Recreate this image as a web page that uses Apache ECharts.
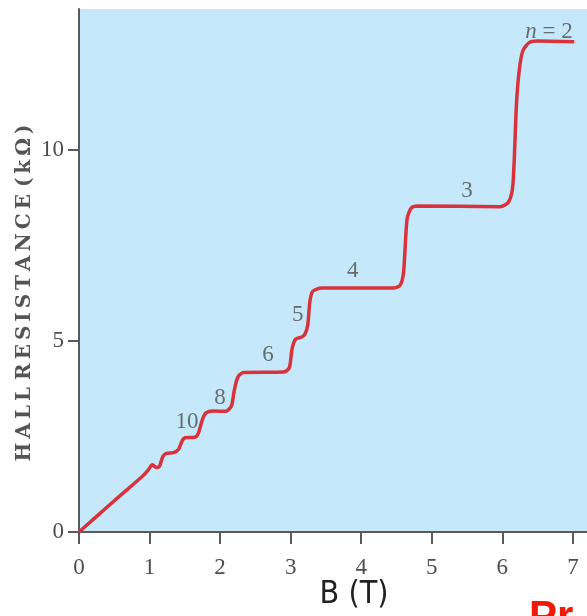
<!DOCTYPE html>
<html>
<head>
<meta charset="utf-8">
<script src="https://cdn.jsdelivr.net/npm/echarts@6/dist/echarts.min.js"></script>
<style>
html,body{margin:0;padding:0;background:#fff;}
#c{width:587px;height:616px;}
</style>
</head>
<body>
<div id="c"></div>
<script>
// Magnetic field B (T)
const bField = [0, 0.5, 0.9, 0.98, 1.04, 1.1, 1.14, 1.19, 1.24, 1.34, 1.41, 1.46, 1.5, 1.64, 1.69, 1.75, 1.8, 1.9, 2.08, 2.16, 2.2, 2.25, 2.33, 2.9, 2.98, 3.02, 3.07, 3.18, 3.24, 3.27, 3.31, 3.44, 4.46, 4.55, 4.6, 4.65, 4.71, 4.8, 5.97, 6.09, 6.15, 6.2, 6.24, 6.29, 6.38, 6.5, 7.02];
// Hall resistance (kOhm)
const rHall = [0, 0.82, 1.46, 1.62, 1.76, 1.69, 1.72, 1.98, 2.06, 2.08, 2.16, 2.38, 2.47, 2.48, 2.58, 2.95, 3.12, 3.17, 3.16, 3.3, 3.7, 4.05, 4.18, 4.19, 4.3, 4.8, 5.05, 5.13, 5.4, 6.0, 6.3, 6.39, 6.39, 6.46, 6.8, 8.2, 8.49, 8.54, 8.52, 8.65, 9.1, 11.2, 12.1, 12.6, 12.82, 12.86, 12.84];
// Plateau labels
const plateauNames = ['10', '8', '6', '5', '4', '3', 'n = 2'];
const plateauB = [1.53, 2.0, 2.68, 3.1, 3.88, 5.5, 6.66];
const plateauR = [2.89, 3.5, 4.63, 5.68, 6.83, 8.93, 13.09];
// Axis ticks
const xTicks = [0, 1, 2, 3, 4, 5, 6, 7];
const yTicks = [0, 5, 10];

const curve = bField.map((b, i) => [b, rHall[i]]);
const labels = plateauNames.map((n, i) => ({
  name: n,
  value: [plateauB[i], plateauR[i]]
}));

const chart = echarts.init(document.getElementById('c'), null, {renderer: 'canvas'});
const tickColor = '#4d4d4d';
const serif = '"Liberation Serif", "DejaVu Serif", serif';
const yTitle = 'HALL RESISTANCE (kΩ)'.split(' ').map(w => w.split('').join('\u2009')).join(' ');

chart.setOption({
  animation: false,
  backgroundColor: '#ffffff',
  grid: {
    left: 79, right: 0, top: 9, bottom: 84,
    show: true, backgroundColor: '#c5e9fb', borderWidth: 0
  },
  xAxis: {
    type: 'value', min: 0, max: 7.2, interval: 1,
    axisLine: {show: true, onZero: false, lineStyle: {color: '#5a5a5a', width: 2}},
    axisTick: {show: true, length: 12, customValues: xTicks, lineStyle: {color: '#5a5a5a', width: 2}},
    splitLine: {show: false},
    axisLabel: {
      margin: 24, color: tickColor, fontFamily: serif, fontSize: 23,
      customValues: xTicks,
      formatter: v => String(v)
    }
  },
  yAxis: {
    type: 'value', min: 0, max: 13.7, interval: 5,
    axisLine: {show: true, onZero: false, lineStyle: {color: '#5a5a5a', width: 2}},
    axisTick: {show: true, length: 11, customValues: yTicks, lineStyle: {color: '#5a5a5a', width: 2}},
    splitLine: {show: false},
    axisLabel: {
      margin: 15, color: tickColor, fontFamily: serif, fontSize: 23,
      customValues: yTicks,
      formatter: v => String(v)
    }
  },
  series: [
    {
      type: 'line',
      data: curve,
      smooth: 0.25,
      symbol: 'none',
      lineStyle: {color: '#d8323d', width: 3.5},
      z: 3
    },
    {
      type: 'scatter',
      data: labels,
      symbolSize: 1,
      itemStyle: {color: 'rgba(0,0,0,0)'},
      label: {
        show: true,
        position: 'inside',
        color: '#4d4d4d',
        fontFamily: serif,
        fontSize: 23,
        formatter: p => p.name === 'n = 2' ? '{i|n} = 2' : p.name,
        rich: {
          i: {fontStyle: 'italic', color: '#4d4d4d', fontFamily: serif, fontSize: 23}
        }
      },
      z: 4
    }
  ],
  graphic: [
    {
      type: 'text',
      x: 25, y: 293,
      rotation: Math.PI / 2,
      style: {
        text: yTitle,
        fill: '#555',
        font: 'bold 20px "DejaVu Serif", serif',
        align: 'center',
        verticalAlign: 'middle'
      }
    },
    {
      type: 'text',
      x: 354, y: 595,
      style: {
        text: 'B (T)',
        fill: '#222',
        font: '32px "Liberation Sans Narrow", "DejaVu Sans Condensed", "Liberation Sans", sans-serif',
        align: 'center',
        verticalAlign: 'middle'
      }
    },
    {
      type: 'text',
      x: 529, y: 597,
      style: {
        text: 'Pr',
        fill: '#f01a08',
        font: 'bold 42px "Liberation Sans", sans-serif',
        align: 'left',
        verticalAlign: 'top'
      }
    }
  ]
});
</script>
</body>
</html>
